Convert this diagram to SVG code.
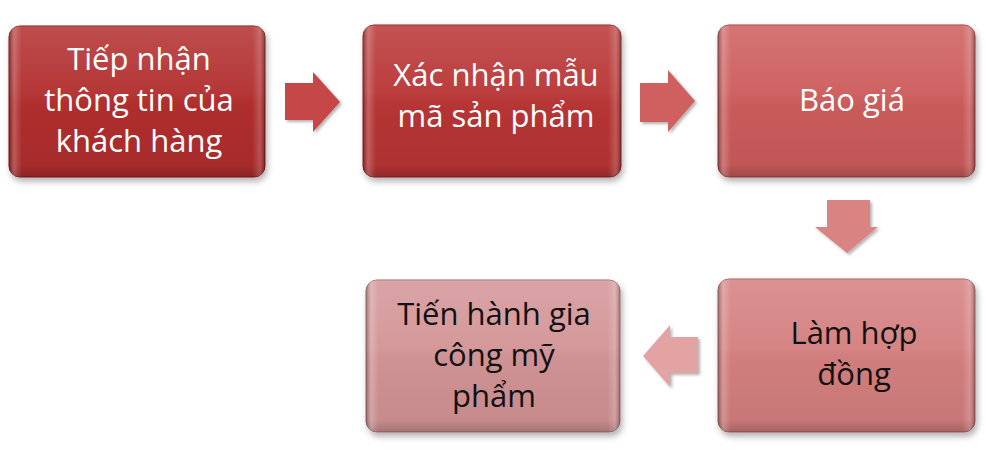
<svg xmlns="http://www.w3.org/2000/svg" width="986" height="459" viewBox="0 0 986 459">
<defs>
<filter id="sh" x="-10%" y="-10%" width="125%" height="130%">
<feDropShadow dx="2" dy="4" stdDeviation="3" flood-color="#000" flood-opacity="0.3"/>
</filter>
<filter id="ash" x="-20%" y="-20%" width="150%" height="150%">
<feDropShadow dx="2" dy="2" stdDeviation="1.5" flood-color="#000" flood-opacity="0.3"/>
</filter>
<linearGradient id="gloss" x1="0" y1="0" x2="0" y2="1">
<stop offset="0" stop-color="#fff" stop-opacity="0.15"/>
<stop offset="0.45" stop-color="#fff" stop-opacity="0.04"/>
<stop offset="0.55" stop-color="#000" stop-opacity="0.02"/>
<stop offset="0.92" stop-color="#000" stop-opacity="0.06"/>
<stop offset="1" stop-color="#000" stop-opacity="0.22"/>
</linearGradient>
<linearGradient id="side" x1="0" y1="0" x2="1" y2="0">
<stop offset="0" stop-color="#000" stop-opacity="0.25"/>
<stop offset="0.02" stop-color="#fff" stop-opacity="0.22"/>
<stop offset="0.05" stop-color="#fff" stop-opacity="0"/>
<stop offset="0.95" stop-color="#fff" stop-opacity="0"/>
<stop offset="0.98" stop-color="#fff" stop-opacity="0.18"/>
<stop offset="1" stop-color="#000" stop-opacity="0.25"/>
</linearGradient>
</defs>
<style>
.box{filter:url(#sh)}
.gl{fill:url(#gloss)}
.sd{fill:url(#side)}
.t{font-family:"Open Sans","Noto Sans","DejaVu Sans",sans-serif;font-size:31px;text-anchor:middle}
.w{fill:#ffffff}
.k{fill:#111111}
.arr{filter:url(#ash)}
</style>
<g id="node1">
<rect class="box" x="9" y="26" width="256" height="151" rx="11" fill="#b22d2d" stroke="#7e1a1a" stroke-width="1"/>
<rect class="gl" x="9" y="26" width="256" height="151" rx="11"/>
<rect class="sd" x="9" y="26" width="256" height="151" rx="11"/>
<text class="t w" x="139" y="70">Tiếp nhận</text>
<text class="t w" x="139" y="111">thông tin của</text>
<text class="t w" x="139" y="152">khách hàng</text>
</g>
<g id="node2">
<rect class="box" x="363" y="25" width="258" height="152" rx="11" fill="#b93535" stroke="#85201f" stroke-width="1"/>
<rect class="gl" x="363" y="25" width="258" height="152" rx="11"/>
<rect class="sd" x="363" y="25" width="258" height="152" rx="11"/>
<text class="t w" x="496" y="86">Xác nhận mẫu</text>
<text class="t w" x="496" y="127">mã sản phẩm</text>
</g>
<g id="node3">
<rect class="box" x="718" y="25" width="257" height="152" rx="11" fill="#cd5c5c" stroke="#9a3838" stroke-width="1"/>
<rect class="gl" x="718" y="25" width="257" height="152" rx="11"/>
<rect class="sd" x="718" y="25" width="257" height="152" rx="11"/>
<text class="t w" x="852" y="111">Báo giá</text>
</g>
<g id="node4">
<rect class="box" x="718" y="279" width="257" height="153" rx="11" fill="#d47f7f" stroke="#a05a5a" stroke-width="1"/>
<rect class="gl" x="718" y="279" width="257" height="153" rx="11"/>
<rect class="sd" x="718" y="279" width="257" height="153" rx="11"/>
<text class="t k" x="854" y="344">Làm hợp</text>
<text class="t k" x="854" y="385">đồng</text>
</g>
<g id="node5">
<rect class="box" x="366" y="280" width="254" height="152" rx="11" fill="#d39496" stroke="#a06a6c" stroke-width="1"/>
<rect class="gl" x="366" y="280" width="254" height="152" rx="11"/>
<rect class="sd" x="366" y="280" width="254" height="152" rx="11"/>
<text class="t k" x="494" y="325">Tiến hành gia</text>
<text class="t k" x="494" y="366">công mỹ</text>
<text class="t k" x="494" y="407">phẩm</text>
</g>
<g id="connectors">
<polygon class="arr" points="285,83 313,83 313,72 340,102 313,132 313,120 285,120" fill="#c64646"/>
<polygon class="arr" points="640,83 668,83 668,70 695,101 668,132 668,122 640,122" fill="#d05f5f"/>
<polygon class="arr" points="827,200 870,200 870,227 878,227 847,253 815,227 827,227" fill="#d98383"/>
<polygon class="arr" points="698,337 670,337 670,325 643,356 670,387 670,373 698,373" fill="#e3a3a3"/>
</g>
</svg>
